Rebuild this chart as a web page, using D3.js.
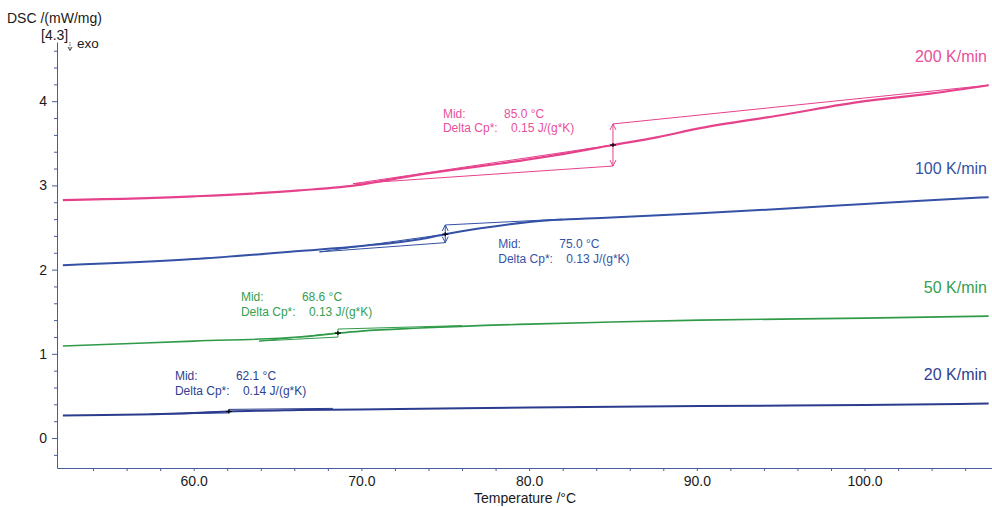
<!DOCTYPE html>
<html>
<head>
<meta charset="utf-8">
<script src="https://cdn.jsdelivr.net/npm/d3@7"></script>
<style>
  html, body { margin: 0; padding: 0; background: #fff; }
  svg { display: block; font-family: "Liberation Sans", Arial, sans-serif; }
</style>
</head>
<body>
<svg id="chart" width="992" height="507"></svg>
<script>
// ---------------- DATA ----------------
const seriesNames = ["200 K/min", "100 K/min", "50 K/min", "20 K/min"];

// measured curves (Temperature /°C, DSC /(mW/mg))
const temp200 = [52.2, 60.0, 66.3, 70.0, 72.3, 75.3, 78.3, 81.6, 85.0, 87.6, 90.2, 94.9, 100.0, 103.9, 107.4];
const dsc200  = [2.825, 2.87, 2.94, 3.01, 3.09, 3.18, 3.26, 3.36, 3.48, 3.57, 3.68, 3.83, 4.00, 4.09, 4.19];

const temp100 = [52.2, 60.0, 66.3, 70.0, 73.5, 75.0, 77.1, 80.0, 84.9, 90.2, 94.9, 100.0, 103.9, 107.4];
const dsc100  = [2.053, 2.125, 2.22, 2.28, 2.36, 2.42, 2.49, 2.566, 2.62, 2.67, 2.72, 2.78, 2.825, 2.86];

const temp50 = [52.2, 60.0, 66.3, 68.6, 70.0, 73.5, 80.0, 84.9, 90.2, 100.0, 107.4];
const dsc50  = [1.092, 1.151, 1.199, 1.246, 1.27, 1.306, 1.353, 1.377, 1.40, 1.424, 1.448];

const temp20 = [52.2, 60.0, 62.1, 66.3, 72.3, 80.0, 90.2, 100.0, 107.4];
const dsc20  = [0.267, 0.297, 0.315, 0.332, 0.344, 0.362, 0.38, 0.392, 0.41];

// glass transition evaluation
const midTemps   = [85.0, 75.0, 68.6, 62.1];
const midValues  = [3.48, 2.42, 1.246, 0.315];
const deltaCp    = [0.15, 0.13, 0.13, 0.14];
// baseline tangents
const lowerTangentStartT = [69.5, 67.5, 63.9, 57.4];
const lowerTangentStartV = [3.02, 2.21, 1.151, 0.282];
const lowerTangentMidV   = [3.23, 2.32, 1.199, 0.298];
const upperTangentMidV   = [3.73, 2.53, 1.294, 0.340];
const upperTangentEndT   = [107.4, 82.0, 76.0, 68.3];
const upperTangentEndV   = [4.19, 2.60, 1.335, 0.352];

const xTickMajor = [60, 70, 80, 90, 100];
const yTickMajor = [0, 1, 2, 3, 4];

// ---------------- STYLE / LAYOUT ----------------
const colors      = ["#e6428c", "#3451a6", "#2f9a48", "#2b3c8e"];
const labelColors = ["#e8509a", "#3553a8", "#34a050", "#2e3f90"];
const curveWidths = [2.2, 2, 1.6, 2];
// offsets (px) of the "Mid:" text block relative to the midpoint marker
const annotOffsets = [[-170, -27], [53, 14], [-97, -32], [-54, -31]];
const axisColor = "#4a5a9e";

const svg = d3.select("#chart");
const x = d3.scaleLinear().domain([51.85, 107.6]).range([57, 992]);
const y = d3.scaleLinear().domain([-0.356, 4.703]).range([468, 42]);

// ---------------- AXES ----------------
const xMinor = d3.range(54, 108, 2).filter(t => t % 10 !== 0);
const xAx = svg.append("g").attr("transform", "translate(0,468)")
  .call(d3.axisBottom(x).tickValues(xTickMajor).tickSize(3).tickSizeOuter(0)
        .tickFormat(d3.format(".1f")));
xAx.selectAll(".tick text").attr("y", 18).attr("dy", 0)
  .style("font-size", "14px").attr("fill", "#1a1a1a");
svg.append("g").attr("transform", "translate(0,468)")
  .call(d3.axisBottom(x).tickValues(xMinor).tickSize(3).tickSizeOuter(0).tickFormat(""))
  .select(".domain").remove();

const yMinor = d3.range(-0.2, 4.7, 0.2).map(v => +v.toFixed(1)).filter(v => Math.abs(v - Math.round(v)) > 0.01);
const yAx = svg.append("g").attr("transform", "translate(57,0)")
  .call(d3.axisLeft(y).tickValues(yTickMajor).tickSize(5).tickSizeOuter(0).tickPadding(5)
        .tickFormat(d3.format("d")));
yAx.selectAll(".tick text").style("font-size", "14px").attr("fill", "#1a1a1a");
svg.append("g").attr("transform", "translate(57,0)")
  .call(d3.axisLeft(y).tickValues(yMinor).tickSize(3).tickSizeOuter(0).tickFormat(""))
  .select(".domain").remove();

svg.selectAll(".domain, .tick line").attr("stroke", axisColor);
svg.selectAll("g").attr("font-family", null);

// axis titles
svg.append("text").attr("x", 7).attr("y", 23).attr("font-size", 14).attr("fill", "#1a1a1a")
  .text("DSC /(mW/mg)");
svg.append("text").attr("x", 41).attr("y", 40).attr("font-size", 14).attr("fill", "#1a1a1a")
  .text("[4.3]");
svg.append("line").attr("x1", 70).attr("x2", 70).attr("y1", 42).attr("y2", 50)
  .attr("stroke", "#333").attr("stroke-width", 0.8).attr("stroke-dasharray", "1.5,1");
svg.append("path").attr("d", "M68,47 L70,50.5 L72,47").attr("fill", "none")
  .attr("stroke", "#333").attr("stroke-width", 0.9);
svg.append("text").attr("x", 77).attr("y", 48).attr("font-size", 13.5).attr("fill", "#1a1a1a")
  .text("exo");
svg.append("text").attr("x", 525).attr("y", 503).attr("text-anchor", "middle")
  .attr("font-size", 14).attr("fill", "#1a1a1a").text("Temperature /°C");

// ---------------- CURVES ----------------
const temps = [temp200, temp100, temp50, temp20];
const dscs  = [dsc200, dsc100, dsc50, dsc20];
const line = d3.line().x(d => x(d[0])).y(d => y(d[1])).curve(d3.curveMonotoneX);

seriesNames.forEach((name, i) => {
  const pts = temps[i].map((t, j) => [t, dscs[i][j]]);
  const g = svg.append("g");
  const c = colors[i];
  const tm = midTemps[i];

  // evaluation lines (thin)
  const thin = (p) => g.append("path").attr("d", d3.line().x(d => x(d[0])).y(d => y(d[1]))(p))
    .attr("fill", "none").attr("stroke", c).attr("stroke-width", 1);
  thin([[lowerTangentStartT[i], lowerTangentStartV[i]], [tm, lowerTangentMidV[i]]]);
  thin([[tm, upperTangentMidV[i]], [upperTangentEndT[i], upperTangentEndV[i]]]);
  thin([[lowerTangentStartT[i], lowerTangentStartV[i]], [tm, midValues[i]]]);

  // main curve
  g.append("path").attr("d", line(pts)).attr("fill", "none")
    .attr("stroke", c).attr("stroke-width", curveWidths[i]).attr("stroke-linejoin", "round");

  // vertical step with arrows
  const xm = x(tm), yl = y(lowerTangentMidV[i]), yu = y(upperTangentMidV[i]);
  g.append("line").attr("x1", xm).attr("x2", xm).attr("y1", yl).attr("y2", yu)
    .attr("stroke", c).attr("stroke-width", 1);
  if (yl - yu > 10) {
    g.append("path").attr("d", `M${xm-3},${yu+6} L${xm},${yu} L${xm+3},${yu+6}`)
      .attr("fill", "none").attr("stroke", c).attr("stroke-width", 1);
    g.append("path").attr("d", `M${xm-3},${yl-6} L${xm},${yl} L${xm+3},${yl-6}`)
      .attr("fill", "none").attr("stroke", c).attr("stroke-width", 1);
  }
  // midpoint marker
  const ym = y(midValues[i]);
  g.append("line").attr("x1", xm - 3).attr("x2", xm + 3).attr("y1", ym).attr("y2", ym)
    .attr("stroke", "#000").attr("stroke-width", 1.2);
  g.append("line").attr("x1", xm).attr("x2", xm).attr("y1", ym - 2).attr("y2", ym + 2)
    .attr("stroke", "#000").attr("stroke-width", 1.2);

  // annotation text
  const ax = xm + annotOffsets[i][0], ay = ym + annotOffsets[i][1];
  const tx = (xx, yy, s) => g.append("text").attr("x", xx).attr("y", yy)
    .attr("font-size", 12).attr("fill", labelColors[i]).text(s);
  tx(ax, ay, "Mid:");
  tx(ax + 61, ay, midTemps[i].toFixed(1) + " °C");
  tx(ax, ay + 14.5, "Delta Cp*:");
  tx(ax + 68, ay + 14.5, deltaCp[i].toFixed(2) + " J/(g*K)");

  // series label
  const last = pts[pts.length - 1];
  g.append("text").attr("x", 987).attr("y", y(last[1]) - 23).attr("text-anchor", "end")
    .attr("font-size", 16).attr("fill", labelColors[i]).text(name);
});
</script>
</body>
</html>
